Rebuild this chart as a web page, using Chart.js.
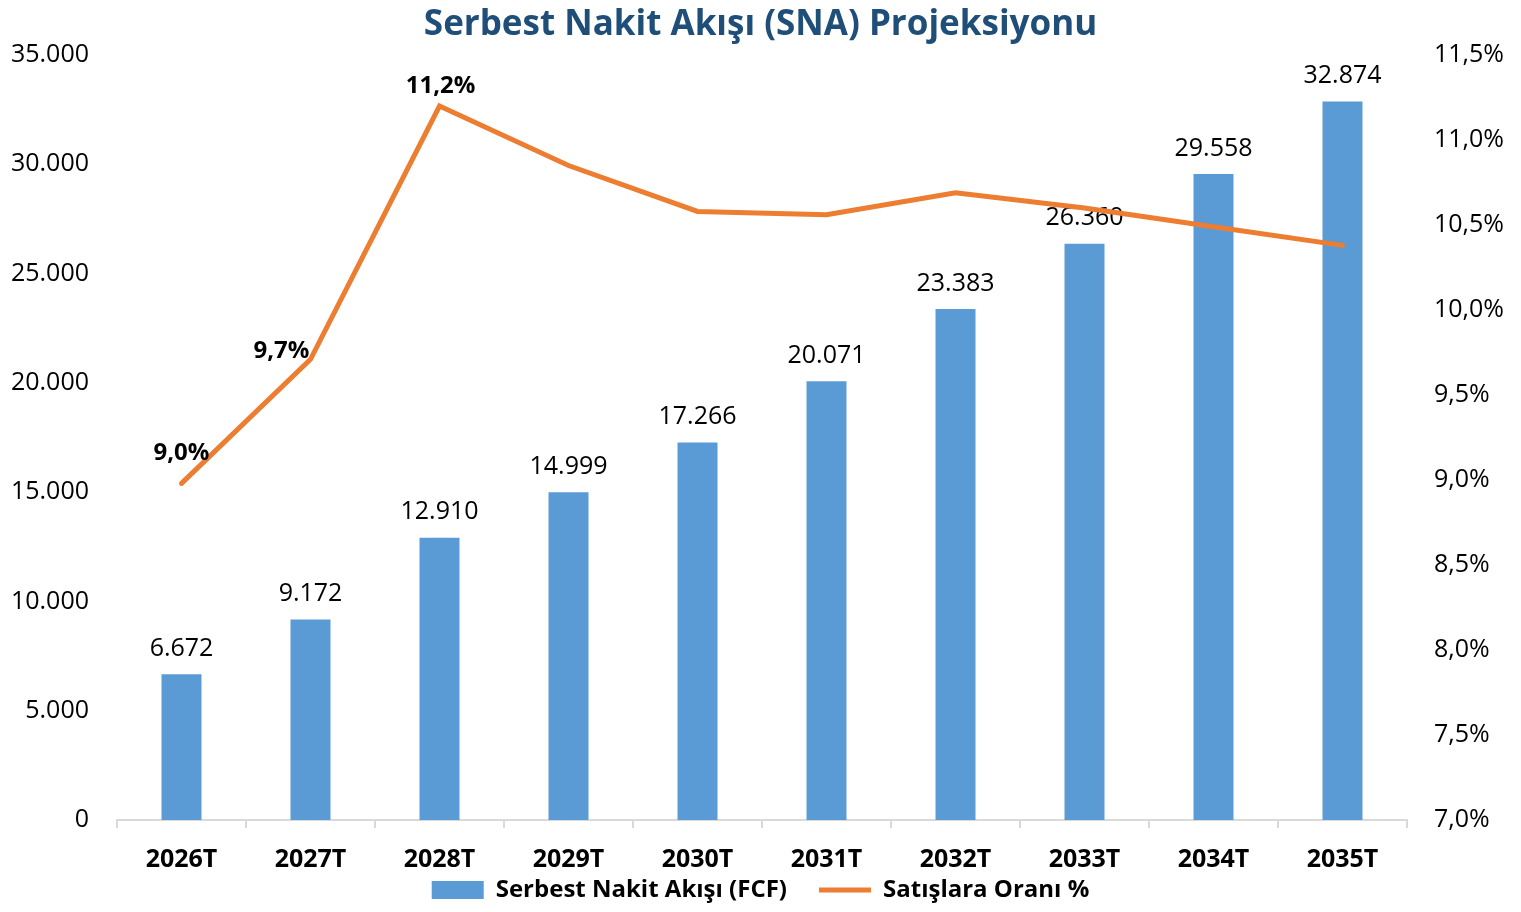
<!DOCTYPE html>
<html>
<head>
<meta charset="utf-8">
<title>Serbest Nakit Akışı (SNA) Projeksiyonu</title>
<script src="https://cdn.jsdelivr.net/npm/chart.js@4/dist/chart.umd.min.js"></script>
<style>
  html, body { margin: 0; padding: 0; background: #fff; }
  #wrap { width: 1521px; height: 912px; }
</style>
</head>
<body>
<div id="wrap"><canvas id="myChart" width="1521" height="912"></canvas></div>
<script>
const years = ['2026T', '2027T', '2028T', '2029T', '2030T', '2031T', '2032T', '2033T', '2034T', '2035T'];
const fcfValues = [6672, 9172, 12910, 14999, 17266, 20071, 23383, 26360, 29558, 32874];
const salesRatio = [8.98, 9.71, 11.2, 10.85, 10.58, 10.56, 10.69, 10.6, 10.49, 10.38];
const ratioLabelCount = 3; // only the first three points are labelled in the original
// label offsets (px) for the ratio labels, from the point
const ratioLabelOffsets = [[0, -30], [-29, -8], [1, -20]];

const FONT = "'Open Sans', 'Noto Sans', sans-serif";

const thousands = (v) => String(Math.round(v)).replace(/\B(?=(\d{3})+(?!\d))/g, '.');
const pct = (v) => v.toFixed(1).replace('.', ',') + '%';

// bar labels go under the line, ratio labels on top
const labelPlugin = {
  id: 'valueLabels',
  afterDatasetDraw(chart, args) {
    if (args.index !== 0) return;
    const ctx = chart.ctx;
    ctx.save();
    ctx.font = '25px ' + FONT;
    ctx.fillStyle = '#000';
    ctx.textAlign = 'center';
    ctx.textBaseline = 'bottom';
    args.meta.data.forEach((bar, i) => {
      ctx.fillText(thousands(fcfValues[i]), bar.x, bar.y - 13);
    });
    ctx.restore();
  },
  afterDatasetsDraw(chart) {
    const meta = chart.getDatasetMeta(1);
    const ctx = chart.ctx;
    ctx.save();
    ctx.font = 'bold 24px ' + FONT;
    ctx.fillStyle = '#000';
    ctx.textAlign = 'center';
    ctx.textBaseline = 'middle';
    for (let i = 0; i < ratioLabelCount; i++) {
      const p = meta.data[i];
      const off = ratioLabelOffsets[i];
      ctx.fillText(pct(salesRatio[i]), p.x + off[0], p.y + off[1]);
    }
    ctx.restore();
  }
};

const ctx = document.getElementById('myChart').getContext('2d');
const myChart = new Chart(ctx, {
  type: 'bar',
  data: {
    labels: years,
    datasets: [{
      label: 'Serbest Nakit Akışı (FCF)',
      data: fcfValues,
      backgroundColor: '#5B9BD5',
      borderWidth: 0,
      yAxisID: 'y',
      order: 2,
      categoryPercentage: 1,
      barPercentage: 0.31,
      pointStyle: 'rect'
    }, {
      type: 'line',
      label: 'Satışlara Oranı %',
      data: salesRatio,
      borderColor: '#ED7D31',
      backgroundColor: '#ED7D31',
      borderWidth: 5,
      borderCapStyle: 'round',
      pointRadius: 0,
      pointHoverRadius: 0,
      tension: 0,
      yAxisID: 'y1',
      order: 1,
      pointStyle: 'line'
    }]
  },
  options: {
    responsive: false,
    animation: false,
    layout: { padding: 0 },
    plugins: {
      title: {
        display: true,
        text: 'Serbest Nakit Akışı (SNA) Projeksiyonu',
        color: '#1F4E79',
        font: { family: FONT, size: 35, weight: 'bold' },
        padding: { top: 4, bottom: 9 }
      },
      legend: {
        display: true,
        position: 'bottom',
        labels: {
          color: '#000',
          font: { family: FONT, size: 24, weight: 'bold' },
          usePointStyle: true,
          pointStyleWidth: 52,
          boxHeight: 18,
          padding: 32,
          sort: (a, b) => a.datasetIndex - b.datasetIndex
        }
      },
      tooltip: { enabled: false }
    },
    scales: {
      x: {
        offset: true,
        grid: {
          offset: true,
          display: true,
          drawOnChartArea: false,
          drawTicks: true,
          tickLength: 8,
          color: '#D9D9D9',
          lineWidth: 2
        },
        border: { display: true, color: '#D9D9D9', width: 2 },
        ticks: {
          color: '#000',
          font: { family: FONT, size: 25, weight: 'bold' },
          // mirror keeps the labels unclipped while the axis box stays short,
          // so the legend can sit right under them
          mirror: true,
          padding: -55,
          maxRotation: 0
        },
        afterFit(scale) { scale.height = 26; }
      },
      y: {
        position: 'left',
        min: 0,
        max: 35000,
        grid: { display: false, drawTicks: false },
        border: { display: false },
        ticks: {
          stepSize: 5000,
          color: '#000',
          font: { family: FONT, size: 25 },
          padding: 28,
          callback: (v) => thousands(v)
        },
        afterFit(scale) { scale.width = 117; }
      },
      y1: {
        position: 'right',
        min: 7,
        max: 11.5,
        grid: { display: false, drawTicks: false },
        border: { display: false },
        ticks: {
          stepSize: 0.5,
          color: '#000',
          font: { family: FONT, size: 25 },
          padding: 27,
          callback: (v) => pct(v)
        },
        afterFit(scale) { scale.width = 114; }
      }
    }
  },
  plugins: [labelPlugin]
});
</script>
</body>
</html>
